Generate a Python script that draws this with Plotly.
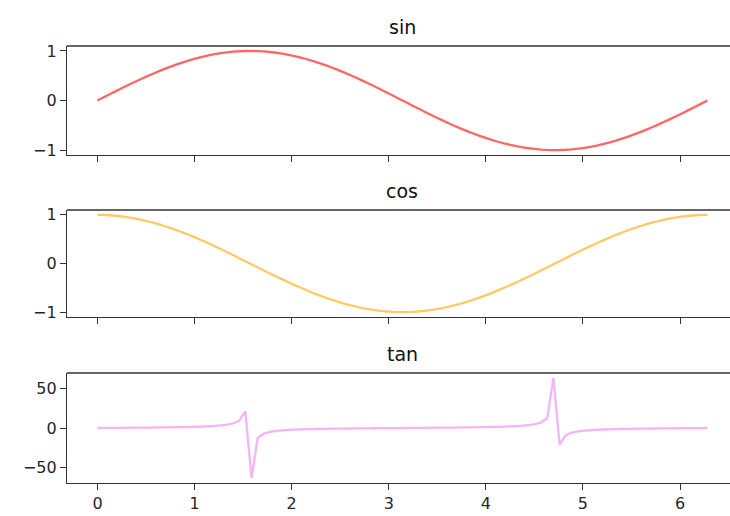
import plotly.graph_objects as go

x_vals = [0.0, 0.0635, 0.1269, 0.1904, 0.2539, 0.3173, 0.3808, 0.4443, 0.5077, 0.5712,
          0.6347, 0.6981, 0.7616, 0.8251, 0.8885, 0.9520, 1.0155, 1.0789, 1.1424, 1.2059,
          1.2693, 1.3328, 1.3963, 1.4597, 1.5232, 1.5867, 1.6501, 1.7136, 1.7771, 1.8405,
          1.9040, 1.9675, 2.0309, 2.0944, 2.1579, 2.2213, 2.2848, 2.3483, 2.4117, 2.4752,
          2.5387, 2.6021, 2.6656, 2.7291, 2.7925, 2.8560, 2.9195, 2.9829, 3.0464, 3.1099,
          3.1733, 3.2368, 3.3003, 3.3637, 3.4272, 3.4907, 3.5541, 3.6176, 3.6811, 3.7445,
          3.8080, 3.8715, 3.9349, 3.9984, 4.0619, 4.1253, 4.1888, 4.2523, 4.3157, 4.3792,
          4.4427, 4.5061, 4.5696, 4.6331, 4.6965, 4.7600, 4.8235, 4.8869, 4.9504, 5.0139,
          5.0773, 5.1408, 5.2043, 5.2677, 5.3312, 5.3947, 5.4581, 5.5216, 5.5851, 5.6485,
          5.7120, 5.7755, 5.8389, 5.9024, 5.9659, 6.0293, 6.0928, 6.1563, 6.2197, 6.2832]

sin_vals = [0.0, 0.0634, 0.1266, 0.1893, 0.2511, 0.3120, 0.3717, 0.4298, 0.4862, 0.5406,
            0.5929, 0.6428, 0.6901, 0.7346, 0.7761, 0.8146, 0.8497, 0.8815, 0.9096, 0.9342,
            0.9549, 0.9718, 0.9848, 0.9938, 0.9989, 0.9999, 0.9969, 0.9898, 0.9788, 0.9638,
            0.9450, 0.9224, 0.8960, 0.8660, 0.8326, 0.7958, 0.7557, 0.7127, 0.6668, 0.6182,
            0.5671, 0.5137, 0.4582, 0.4009, 0.3420, 0.2817, 0.2203, 0.1580, 0.0951, 0.0317,
            -0.0317, -0.0951, -0.1580, -0.2203, -0.2817, -0.3420, -0.4009, -0.4582, -0.5137, -0.5671,
            -0.6182, -0.6668, -0.7127, -0.7557, -0.7958, -0.8326, -0.8660, -0.8960, -0.9224, -0.9450,
            -0.9638, -0.9788, -0.9898, -0.9969, -0.9999, -0.9989, -0.9938, -0.9848, -0.9718, -0.9549,
            -0.9342, -0.9096, -0.8815, -0.8497, -0.8146, -0.7761, -0.7346, -0.6901, -0.6428, -0.5929,
            -0.5406, -0.4862, -0.4298, -0.3717, -0.3120, -0.2511, -0.1893, -0.1266, -0.0634, 0.0]

cos_vals = [1.0, 0.9980, 0.9920, 0.9819, 0.9679, 0.9501, 0.9284, 0.9029, 0.8738, 0.8413,
            0.8053, 0.7660, 0.7237, 0.6785, 0.6306, 0.5801, 0.5272, 0.4723, 0.4154, 0.3569,
            0.2969, 0.2358, 0.1736, 0.1108, 0.0476, -0.0159, -0.0792, -0.1423, -0.2048, -0.2665,
            -0.3271, -0.3863, -0.4441, -0.5000, -0.5539, -0.6056, -0.6549, -0.7015, -0.7453, -0.7861,
            -0.8237, -0.8580, -0.8888, -0.9161, -0.9397, -0.9595, -0.9754, -0.9874, -0.9955, -0.9995,
            -0.9995, -0.9955, -0.9874, -0.9754, -0.9595, -0.9397, -0.9161, -0.8888, -0.8580, -0.8237,
            -0.7861, -0.7453, -0.7015, -0.6549, -0.6056, -0.5539, -0.5000, -0.4441, -0.3863, -0.3271,
            -0.2665, -0.2048, -0.1423, -0.0792, -0.0159, 0.0476, 0.1108, 0.1736, 0.2358, 0.2969,
            0.3569, 0.4154, 0.4723, 0.5272, 0.5801, 0.6306, 0.6785, 0.7237, 0.7660, 0.8053,
            0.8413, 0.8738, 0.9029, 0.9284, 0.9501, 0.9679, 0.9819, 0.9920, 0.9980, 1.0]

tan_vals = [0.0, 0.064, 0.128, 0.193, 0.259, 0.328, 0.400, 0.476, 0.556, 0.643,
            0.736, 0.839, 0.953, 1.083, 1.231, 1.404, 1.612, 1.866, 2.190, 2.617,
            3.216, 4.122, 5.671, 8.966, 20.99, -63.02, -12.579, -6.955, -4.779, -3.617,
            -2.889, -2.387, -2.018, -1.732, -1.503, -1.314, -1.154, -1.016, -0.895, -0.786,
            -0.688, -0.599, -0.516, -0.438, -0.364, -0.294, -0.226, -0.160, -0.0955, -0.0317,
            0.0317, 0.0955, 0.160, 0.226, 0.294, 0.364, 0.438, 0.516, 0.599, 0.688,
            0.786, 0.895, 1.016, 1.154, 1.314, 1.503, 1.732, 2.018, 2.387, 2.889,
            3.617, 4.779, 6.955, 12.579, 63.02, -20.99, -8.966, -5.671, -4.122, -3.216,
            -2.617, -2.190, -1.866, -1.612, -1.404, -1.231, -1.083, -0.953, -0.839, -0.736,
            -0.643, -0.556, -0.476, -0.400, -0.328, -0.259, -0.193, -0.128, -0.064, 0.0]

titles = ["sin", "cos", "tan"]
series = [sin_vals, cos_vals, tan_vals]
colors = ["rgba(255,0,0,0.6)", "rgba(255,165,0,0.6)", "rgba(238,130,238,0.6)"]
x_ticks = [0, 1, 2, 3, 4, 5, 6]
y_ticks = [[-1, 0, 1], [-1, 0, 1], [-50, 0, 50]]
y_ranges = [[-1.1, 1.1], [-1.1, 1.1], [-69.3, 69.3]]
x_range = [-0.314, 6.515]

domains = [[0.7506, 1.0], [0.3799, 0.6247], [0.0, 0.2517]]

fig = go.Figure()
axis_color = "#333333"
font_fam = "DejaVu Sans"

for k in range(3):
    ax = "" if k == 0 else str(k + 1)
    fig.add_trace(go.Scatter(x=x_vals, y=series[k], mode="lines",
                             line=dict(color=colors[k], width=2.3, simplify=False),
                             xaxis="x" + ax, yaxis="y" + ax, showlegend=False,
                             hoverinfo="skip"))
    xa = dict(domain=[0, 1], range=x_range, tickvals=x_ticks, automargin=False,
              showticklabels=(k == 2), ticks="outside", ticklen=6, tickwidth=1.2,
              tickcolor=axis_color, showline=True, linecolor=axis_color, linewidth=1.3,
              showgrid=False, zeroline=False, anchor="y" + ax,
              tickfont=dict(family=font_fam, size=16, color="#262626"))
    if k > 0:
        xa["matches"] = "x"
    ya = dict(domain=domains[k], range=y_ranges[k], tickvals=y_ticks[k], automargin=False,
              ticks="outside", ticklen=6, tickwidth=1.2, tickcolor=axis_color,
              showline=True, linecolor=axis_color, linewidth=1.3,
              showgrid=False, zeroline=False, anchor="x" + ax,
              tickfont=dict(family=font_fam, size=16, color="#262626"))
    fig.layout["xaxis" + ax] = xa
    fig.layout["yaxis" + ax] = ya
    # top border
    fig.add_shape(type="line", xref="x" + ax + " domain", yref="y" + ax + " domain",
                  x0=0, x1=1, y0=1, y1=1, line=dict(color=axis_color, width=1.3))
    fig.add_annotation(text=titles[k], xref="x" + ax + " domain", yref="y" + ax + " domain",
                       x=(0.314 + 3.1416) / (x_range[1] - x_range[0]), y=1,
                       xanchor="center", yanchor="middle", yshift=19, showarrow=False,
                       font=dict(family=font_fam, size=19, color="#111111"))

fig.update_layout(width=730, height=516, margin=dict(l=67, r=0, t=46, b=33, autoexpand=False),
                  paper_bgcolor="white", plot_bgcolor="white")

fig.write_html("out.html", config={"displayModeBar": False},
               post_script="document.body.style.margin='0';document.body.style.overflow='hidden';")
